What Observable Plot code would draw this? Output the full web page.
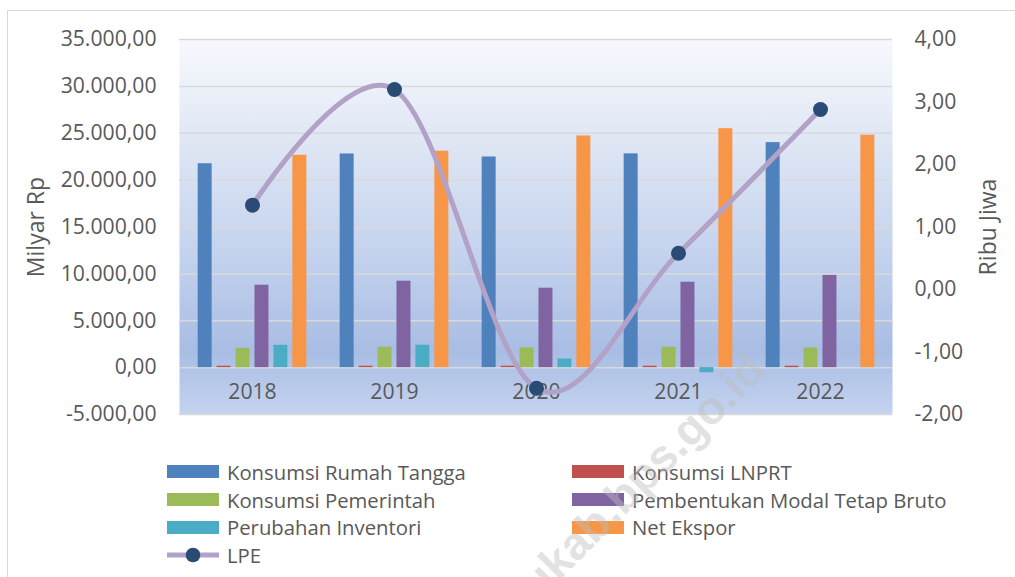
<!DOCTYPE html>
<html><head><meta charset="utf-8">
<script src="https://cdn.jsdelivr.net/npm/d3@7"></script>
<script src="https://cdn.jsdelivr.net/npm/@observablehq/plot@0.6"></script>
<style>
html,body{margin:0;padding:0;background:#fff;overflow:hidden;}
#wrap{position:relative;width:1015px;height:577px;overflow:hidden;font-family:"Open Sans",sans-serif;color:#595959;}
#border{position:absolute;left:7px;top:10px;width:1100px;height:700px;border:1px solid #D9D9D9;box-sizing:border-box;}
#chart{position:absolute;left:0;top:0;}
.lg{position:absolute;height:28px;display:flex;align-items:center;font-size:20.3px;color:#595959;white-space:nowrap;}
.sw{width:52px;height:13px;margin-right:8px;flex:none;}
#wm{position:absolute;left:0;top:0;pointer-events:none;}
</style></head>
<body><div id="wrap"><div id="border"></div><div id="chart"></div><div id="legend"></div><svg id="wm" width="1015" height="577"></svg></div>
<script>
// ---- data ----
const years = ["2018", "2019", "2020", "2021", "2022"];
const seriesNames = ["Konsumsi Rumah Tangga", "Konsumsi LNPRT", "Konsumsi Pemerintah", "Pembentukan Modal Tetap Bruto", "Perubahan Inventori", "Net Ekspor"];
const rumahTangga = [21750, 22790, 22470, 22800, 24000];
const lnprt       = [150, 150, 150, 150, 150];
const pemerintah  = [2060, 2170, 2100, 2170, 2100];
const pmtb        = [8790, 9220, 8470, 9110, 9830];
const inventori   = [2380, 2390, 920, -550, 0];
const netEkspor   = [22650, 23080, 24710, 25490, 24790];
const lpe         = [1.35, 3.20, -1.58, 0.58, 2.88];
const leftTicks  = [-5000, 0, 5000, 10000, 15000, 20000, 25000, 30000, 35000];
const rightTicks = [-2, -1, 0, 1, 2, 3, 4];
const colors = ["#4F81BD", "#C0504D", "#9BBB59", "#8064A2", "#4BACC6", "#F79646"];
const lpeLine = "#B3A2C7", lpeDot = "#2A4B75";

// ---- layout ----
const W = 1015, H = 440, ML = 179, MR = 123, MT = 39, MB = 26;
const bw = (W - ML - MR) / years.length;
const inner = d3.scaleBand().domain(seriesNames).range([0, bw]).paddingInner(0.23).paddingOuter(0.88);
const leftDomain = [-5000, 35000], rightDomain = [-2, 4];
const toLeft = r => leftDomain[0] + (r - rightDomain[0]) * (leftDomain[1] - leftDomain[0]) / (rightDomain[1] - rightDomain[0]);
const toRight = v => rightDomain[0] + (v - leftDomain[0]) * (rightDomain[1] - rightDomain[0]) / (leftDomain[1] - leftDomain[0]);
const loc = d3.formatLocale({decimal: ",", thousands: ".", grouping: [3], currency: ["Rp", ""], minus: "-"});
const fmtL = loc.format(",.2f");
const fmtR = loc.format(".2f");

const seriesValues = [rumahTangga, lnprt, pemerintah, pmtb, inventori, netEkspor];
const barMarks = seriesNames.map((s, i) => Plot.barY(
  years.map((y, j) => ({year: y, value: seriesValues[i][j]})),
  {x: "year", y: "value", fill: colors[i], insetLeft: inner(s), insetRight: bw - inner(s) - inner.bandwidth()}
));
const lpeData = years.map((y, j) => ({year: y, value: lpe[j]}));

const chart = Plot.plot({
  width: W, height: H, marginLeft: ML, marginRight: MR, marginTop: MT, marginBottom: MB,
  style: {fontFamily: "'Open Sans', sans-serif", fontSize: "21.2px", color: "#595959", background: "transparent", overflow: "visible"},
  x: {domain: years, padding: 0, axis: null},
  y: {domain: leftDomain, axis: null},
  marks: [
    Plot.frame({fill: "url(#bgGrad)", stroke: null}),
    Plot.ruleY(leftTicks, {stroke: "#D9D9D9", strokeWidth: 1.5}),
    ...barMarks,
    Plot.text(years, {x: d => d, text: d => d, frameAnchor: "bottom", dy: -16, fill: "#595959"}),
    Plot.axisY(leftTicks, {anchor: "left", tickSize: 0, tickPadding: 23, tickFormat: fmtL, label: null}),
    Plot.axisY(rightTicks.map(toLeft), {anchor: "right", tickSize: 0, tickPadding: 22, tickFormat: v => fmtR(Math.round(toRight(v) * 100) / 100), label: null}),
    Plot.text(["Milyar Rp"], {frameAnchor: "left", text: d => d, rotate: -90, dx: -143, textAnchor: "middle", fill: "#595959", fontSize: 23}),
    Plot.text(["Ribu Jiwa"], {frameAnchor: "right", text: d => d, rotate: -90, dx: 96, textAnchor: "middle", fill: "#595959", fontSize: 23}),
    Plot.line(lpeData, {x: "year", y: d => toLeft(d.value), stroke: lpeLine, strokeWidth: 5, curve: "cardinal", strokeLinecap: "round"}),
    Plot.dot(lpeData, {x: "year", y: d => toLeft(d.value), r: 7.5, fill: lpeDot, stroke: null})
  ]
});
// gradient background
const svgSel = d3.select(chart.tagName.toLowerCase() === "svg" ? chart : chart.querySelector("svg"));
const grad = svgSel.insert("defs", ":first-child").append("linearGradient")
  .attr("id", "bgGrad").attr("x1", 0).attr("y1", 0).attr("x2", 0).attr("y2", 1);
[[0, "#F7F9FD"], [0.25, "#E1E8F5"], [0.55, "#C6D4EE"], [0.83, "#A9BDE4"], [1, "#C4D3EF"]]
  .forEach(([o, c]) => grad.append("stop").attr("offset", o).attr("stop-color", c));
document.getElementById("chart").appendChild(chart);

// ---- legend ----
const legend = document.getElementById("legend");
const rowsY = [471.5, 499.5, 527, 555];
const colX = [167, 572];
seriesNames.forEach((s, i) => {
  const d = document.createElement("div");
  d.className = "lg";
  d.style.left = colX[i % 2] + "px";
  d.style.top = (rowsY[Math.floor(i / 2)] - 14) + "px";
  d.innerHTML = `<div class="sw" style="background:${colors[i]}"></div><span>${s}</span>`;
  legend.appendChild(d);
});
const l = document.createElement("div");
l.className = "lg";
l.style.left = colX[0] + "px";
l.style.top = (rowsY[3] - 14) + "px";
l.innerHTML = `<svg width="52" height="16" style="margin-right:8px;flex:none"><line x1="0" y1="8" x2="52" y2="8" stroke="${lpeLine}" stroke-width="5" stroke-linecap="round"/><circle cx="26" cy="8" r="7.3" fill="${lpeDot}"/></svg><span>LPE</span>`;
legend.appendChild(l);

// ---- watermark ----
d3.select("#wm").append("text")
  .attr("transform", "translate(768,372) rotate(-45)")
  .attr("text-anchor", "end")
  .attr("font-family", "'Liberation Sans', Arial, sans-serif")
  .attr("font-weight", "bold").attr("font-size", 46)
  .attr("fill", "rgba(190,190,190,0.45)")
  .text("ukab.bps.go.id");
</script></body></html>
